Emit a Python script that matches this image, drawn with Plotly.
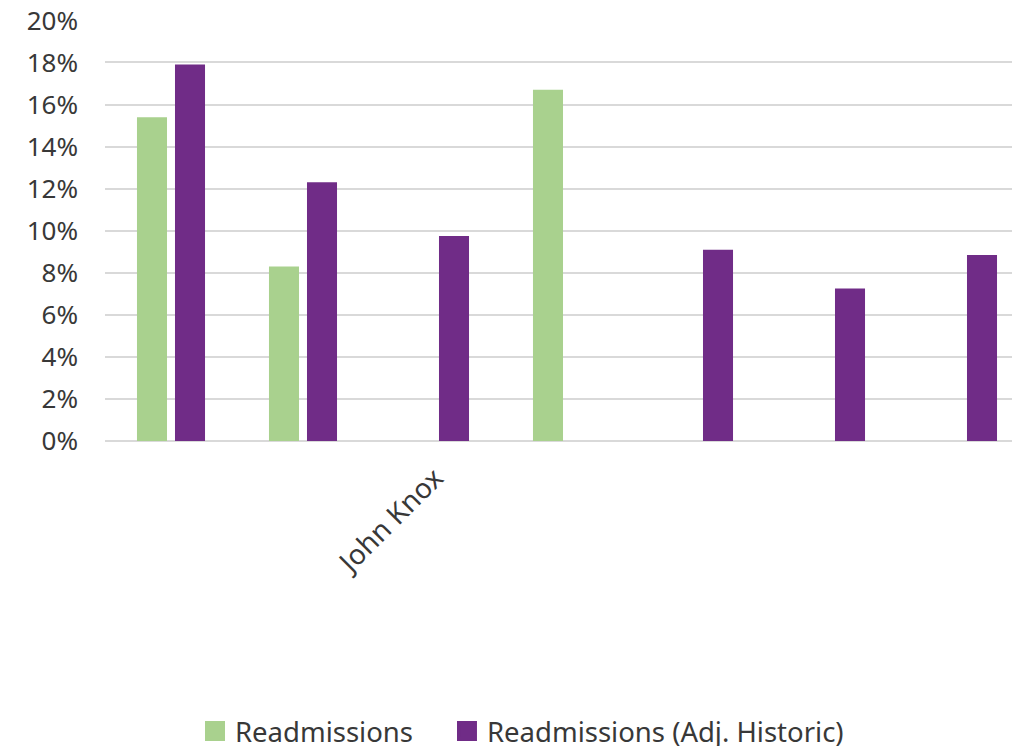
import plotly.graph_objects as go

categories = ["c1", "c2", "John Knox", "c4", "c5", "c6", "c7"]
tick_labels = ["", "", "John Knox", "", "", "", ""]
readmissions = [0.154, 0.083, None, 0.167, None, None, None]
readmissions_adj = [0.179, 0.123, 0.0975, None, 0.091, 0.0725, 0.0885]
y_ticks = [0, 0.02, 0.04, 0.06, 0.08, 0.1, 0.12, 0.14, 0.16, 0.18, 0.2]
series_names = ["Readmissions", "Readmissions (Adj. Historic)"]
series_colors = ["#A9D18E", "#702C87"]
legend_ids = ["legend", "legend2"]

fig = go.Figure()
for vals, name, color in zip([readmissions, readmissions_adj], series_names, series_colors):
    fig.add_trace(go.Bar(x=categories, y=vals, name=name, showlegend=False,
                         marker=dict(color=color, line=dict(width=0))))
# legend entries with larger square swatches
for name, color, lid in zip(series_names, series_colors, legend_ids):
    fig.add_trace(go.Scatter(x=[None], y=[None], mode="markers", name=name, legend=lid,
                             marker=dict(symbol="square", size=16, color=color,
                                         line=dict(width=4, color=color))))

legend_common = dict(orientation="h", xanchor="left", y=-0.689, yanchor="middle",
                     font=dict(size=27.5), itemwidth=30, itemsizing="trace",
                     bgcolor="rgba(0,0,0,0)")

fig.update_layout(
    width=1021, height=760,
    margin=dict(l=97, r=0, t=12, b=327),
    paper_bgcolor="white", plot_bgcolor="white",
    barmode="group", bargap=0.424, bargroupgap=0.21,
    font=dict(family="Noto Sans", size=26, color="#383838"),
    showlegend=True,
    legend=dict(x=0.0974, **legend_common),
    legend2=dict(x=0.3701, **legend_common),
    xaxis=dict(type="category", range=[-0.5, 6.5], tickmode="array",
               tickvals=categories, ticktext=tick_labels, tickangle=-45,
               tickfont=dict(size=28), ticklabelstandoff=14, automargin=False,
               showgrid=False, showline=False, ticks="", zeroline=False),
    yaxis=dict(range=[0, 0.2002], tickmode="array", tickvals=y_ticks,
               tickformat=".0%", showgrid=True, ticklabeloverflow="allow", automargin=False,
               gridcolor="#D9D9D9", gridwidth=1.5, zeroline=True, zerolinecolor="#D9D9D9",
               zerolinewidth=1.5, ticks="", ticklabelstandoff=26),
)

fig.write_html("out.html")
